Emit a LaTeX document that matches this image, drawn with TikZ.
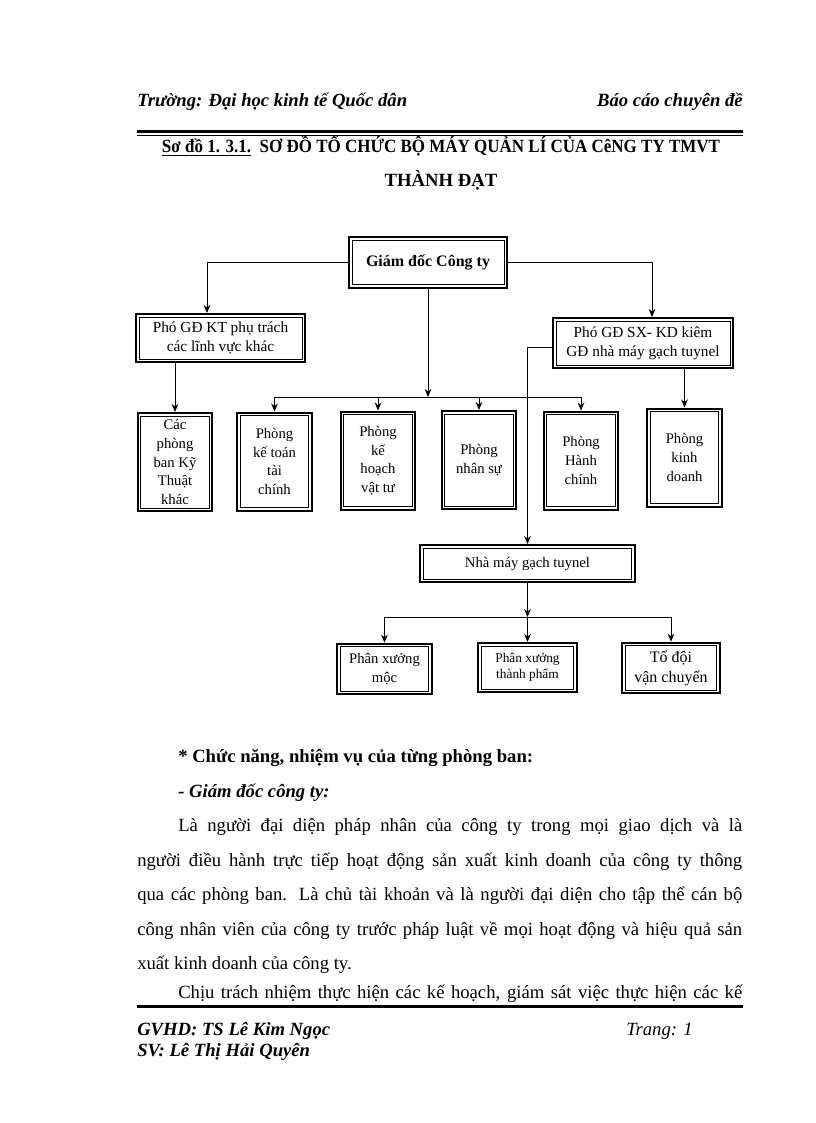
\documentclass[tikz,border=0pt]{standalone}
\usepackage{fontspec}
\setmainfont{Liberation Serif}
\usetikzlibrary{arrows.meta}

\begin{document}
\begin{tikzpicture}[x=0.75pt,y=-0.75pt,
orgblock/.style={draw,rectangle,line width=1.5pt,align=center,inner sep=2pt,font=\fontsize{11}{14}\selectfont},
tallblock/.style={orgblock,minimum width=56pt,minimum height=73.5pt},
unitblock/.style={orgblock,minimum width=73pt,minimum height=38pt},
link/.style={line width=0.7pt,-{Stealth[length=6pt,width=5pt]}},
line/.style={line width=0.7pt},
pagetext/.style={anchor=base west,inner sep=0pt,font=\fontsize{14}{17}\selectfont},
pagebold/.style={pagetext,font=\fontsize{14}{17}\selectfont\bfseries},
pagebi/.style={pagetext,font=\fontsize{14}{17}\selectfont\bfseries\itshape}]

\useasboundingbox (0,0) rectangle (816,1123);

% page head
\node[pagebi] (school) at (137,107) {Trường: Đại học kinh tế Quốc dân};
\node[pagebi,anchor=base east] (report) at (743,107) {Báo cáo chuyên đề};
\draw[line width=2.25pt] (137,131.5) -- (743,131.5);
\draw[line width=0.75pt] (137,135.5) -- (743,135.5);
\node[pagebold,anchor=base] (title) at (441,153) {\resizebox{418.5pt}{\height}{\underline{Sơ đồ 1. 3.1.}\ \ SƠ ĐỒ TỔ CHỨC BỘ MÁY QUẢN LÍ CỦA CêNG TY TMVT}};
\node[pagebold,anchor=base] (title2) at (441,187) {THÀNH ĐẠT};

% chart
\draw (428,262.5) node[orgblock,minimum width=118.5pt,minimum height=38pt,font=\fontsize{12}{14}\selectfont\bfseries] (gd) {Giám đốc Công ty};
\draw (220.5,338) node[orgblock,minimum width=126.75pt,minimum height=36pt,font=\fontsize{11.5}{14}\selectfont] (pkt) {Phó GĐ KT phụ trách\\các lĩnh vực khác};
\draw (643,343) node[orgblock,minimum width=135pt,minimum height=37.5pt,font=\fontsize{11.5}{14}\selectfont] (psx) {Phó GĐ SX- KD kiêm\\GĐ nhà máy gạch tuynel};
\draw (175,462) node[tallblock] (cpb) {Các\\phòng\\ban Kỹ\\Thuật\\khác};
\draw (274.5,461.5) node[tallblock] (pkt2) {Phòng\\kế toán\\tài\\chính};
\draw (378,460.5) node[tallblock] (pkh) {Phòng\\kế\\hoạch\\vật tư};
\draw (479,460) node[tallblock] (pns) {Phòng\\nhân sự};
\draw (581,460.5) node[tallblock] (phc) {Phòng\\Hành\\chính};
\draw (684.5,457.5) node[tallblock] (pkd) {Phòng\\kinh\\doanh};
\draw (527.5,563.5) node[orgblock,minimum width=161pt,minimum height=27.75pt] (nm) {Nhà máy gạch tuynel};
\draw (384.5,669) node[unitblock,minimum width=71pt] (pxm) {Phân xưởng\\mộc};
\draw (527.5,667.5) node[unitblock,minimum width=74pt,minimum height=36.75pt,font=\fontsize{10}{12}\selectfont] (pxt) {Phân xưởng\\thành phẩm};
\draw (671,668) node[unitblock,font=\fontsize{12}{15}\selectfont] (tdv) {Tổ đội\\vận chuyển};

\foreach \b in {gd,pkt,psx,cpb,pkt2,pkh,pns,phc,pkd,nm,pxm,pxt,tdv}
  \draw[line width=0.7pt] ([shift={(3pt,-3pt)}]\b.north west) rectangle ([shift={(-3pt,3pt)}]\b.south east);

\coordinate (kl) at (207,262.5);
\coordinate (kr) at (652,262.5);
\coordinate (hub) at (428,397);
\coordinate (hub2) at (527.5,617);

\draw[link] (gd.west) -- (kl) -- (kl |- pkt.north);
\draw[link] (gd.east) -- (kr) -- (kr |- psx.north);
\draw[link] (gd.south) -- (hub);
\draw[line] (pkt2.north |- hub) -- (phc.north |- hub);
\foreach \b in {pkt2,pkh,pns,phc}
  \draw[link] (\b.north |- hub) -- (\b.north);
\draw[link] (pkt.south -| cpb.north) -- (cpb.north);
\draw[link] (psx.south -| pkd.north) -- (pkd.north);
\draw[link] ([yshift=-3pt]psx.west) -| (nm.north);
\draw[link] (nm.south) -- (hub2);
\draw[line] (pxm.north |- hub2) -- (tdv.north |- hub2);
\foreach \b in {pxm,pxt,tdv}
  \draw[link] (\b.north |- hub2) -- (\b.north);

% text below the chart
\node[pagebold] (h1) at (178,762) {* Chức năng, nhiệm vụ của từng phòng ban:};
\node[pagebi] (h2) at (178,797) {- Giám đốc công ty:};
\node[pagetext] (p3) at (178,831) {\makebox[423pt][s]{Là người đại diện pháp nhân của công ty trong mọi giao dịch và là}};
\node[pagetext] (p4) at (137,866) {\makebox[453.75pt][s]{người điều hành trực tiếp hoạt động sản xuất kinh doanh của công ty thông}};
\node[pagetext] (p5) at (137,900) {\makebox[453.75pt][s]{qua các phòng ban. Là chủ tài khoản và là người đại diện cho tập thể cán bộ}};
\node[pagetext] (p6) at (137,935) {\makebox[453.75pt][s]{công nhân viên của công ty trước pháp luật về mọi hoạt động và hiệu quả sản}};
\node[pagetext] (p7) at (137,969) {xuất kinh doanh của công ty.};
\node[pagetext] (p8) at (178,998) {\makebox[423pt][s]{Chịu trách nhiệm thực hiện các kế hoạch, giám sát việc thực hiện các kế}};

% page foot
\draw[line width=2.25pt] (137,1006) -- (743,1006);
\node[pagebi] (gvhd) at (137,1035) {GVHD: TS Lê Kim Ngọc};
\node[pagetext,font=\fontsize{14}{17}\selectfont\itshape] (trang) at (626,1035) {Trang: 1};
\node[pagebi] (sv) at (137,1056) {SV: Lê Thị Hải Quyên};
\end{tikzpicture}
\end{document}
